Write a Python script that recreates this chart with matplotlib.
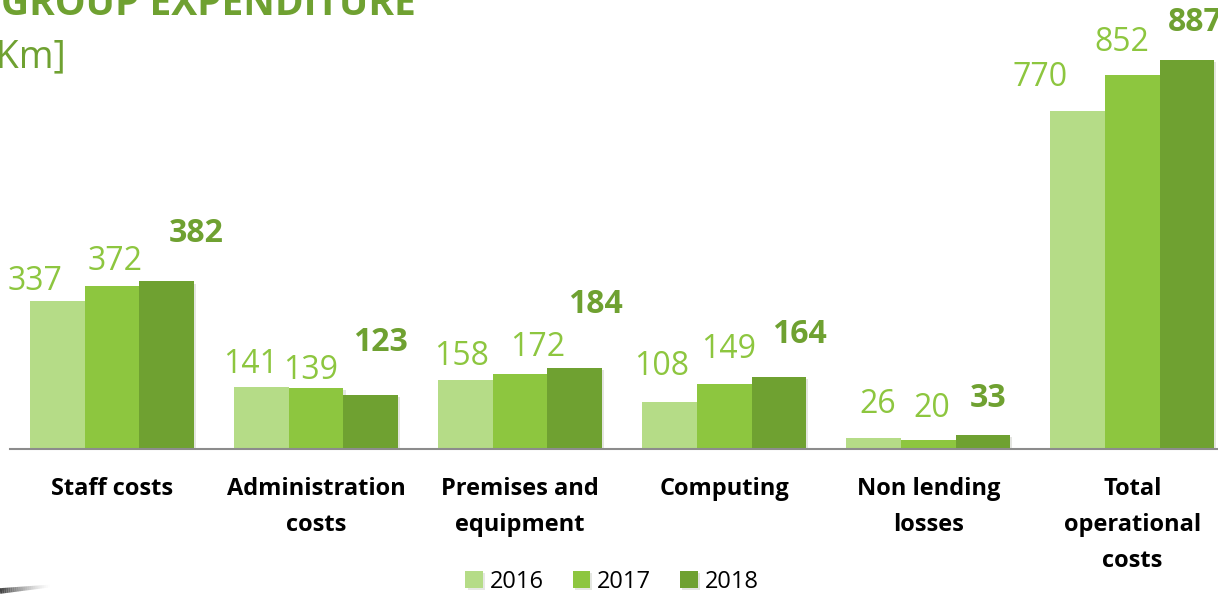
import matplotlib.pyplot as plt
import matplotlib.patheffects as pe
import numpy as np

# expenditure per category, in thousands of euro
categories = ["Staff costs", "Administration\ncosts", "Premises and\nequipment",
              "Computing", "Non lending\nlosses", "Total\noperational\ncosts"]
years = ["2016", "2017", "2018"]
values_2016 = [337, 141, 158, 108, 26, 770]
values_2017 = [372, 139, 172, 149, 20, 852]
values_2018 = [382, 123, 184, 164, 33, 887]

# hand placed label nudges (pixels) so the numbers don't collide
nudge_2016 = [(-22, 20), (-11, 23), (-4, 23), (-8, 35), (4, 33), (-38, 34)]
nudge_2017 = [(3, 24), (-5, 18), (18, 26), (4, 34), (4, 32), (-10, 33)]
nudge_2018 = [(29, 48), (10, 53), (21, 64), (21, 43), (5, 36), (8, 37)]

bar_colors = ["#b5dc87", "#8dc63f", "#6fa131"]
label_colors = ["#8dc63f", "#8dc63f", "#6fa131"]
dark_green = "#6fa131"

plt.rcParams["font.family"] = ["Open Sans", "DejaVu Sans"]

fig = plt.figure(figsize=(12.18, 5.94), dpi=100)
ax = fig.add_axes([10 / 1218, 1 - 449 / 594, 1 - 10 / 1218, 449 / 594])

x = np.arange(len(categories))
w = 0.268
shadow = [pe.SimplePatchShadow(offset=(1.5, -1.5), alpha=0.12), pe.Normal()]

series = [values_2016, values_2017, values_2018]
nudges = [nudge_2016, nudge_2017, nudge_2018]
for i, (vals, yr) in enumerate(zip(series, years)):
    bars = ax.bar(x + (i - 1) * w, vals, w, color=bar_colors[i], label=yr,
                  path_effects=shadow, zorder=2)
    for b, v, (dx, dy) in zip(bars, vals, nudges[i]):
        ax.annotate(str(v), (b.get_x() + b.get_width() / 2, v),
                    xytext=(dx, dy), textcoords="offset pixels",
                    ha="center", va="center", fontsize=23,
                    color=label_colors[i],
                    fontweight="bold" if i == 2 else "normal",
                    annotation_clip=False, clip_on=False, zorder=4)

ax.set_xlim(-0.5, 5.42)
ax.set_ylim(0, 1023.7)
for s in ["top", "right", "left"]:
    ax.spines[s].set_visible(False)
ax.spines["bottom"].set_color("#8c8c8c")
ax.spines["bottom"].set_linewidth(1.5)
ax.set_yticks([])
ax.set_xticks(x)
ax.set_xticklabels(categories, fontsize=17, fontweight="bold", linespacing=1.66)
ax.tick_params(axis="x", length=0, pad=20)
ax.patch.set_alpha(0)

fig.text(416 / 1218, 1 - 15 / 594, "GROUP EXPENDITURE", ha="right", va="baseline",
         fontsize=28, fontweight="bold", color=dark_green)
fig.text(66 / 1218, 1 - 67 / 594, "[€Km]", ha="right", va="baseline",
         fontsize=27, color=dark_green)

fig.legend(loc="center", bbox_to_anchor=(612 / 1218, 1 - 582 / 594), ncol=3,
           frameon=False, fontsize=17, handlelength=0.75, handleheight=0.75,
           handletextpad=0.3, columnspacing=1.2)

# small dark swoosh in the bottom corner, fading out to the right
n = 24
for k in range(n):
    t0, t1 = k / n, (k + 1) / n
    fig.add_artist(plt.Line2D([t0 * 50 / 1218, t1 * 50 / 1218],
                              [(3 + 5 * t0) / 594, (3 + 5 * t1) / 594],
                              transform=fig.transFigure, color="#2e2e2e",
                              alpha=0.9 * (1 - t0) ** 1.5, lw=4 * (1 - 0.5 * t0),
                              solid_capstyle="butt"))

fig.savefig("out.png", dpi=100)
